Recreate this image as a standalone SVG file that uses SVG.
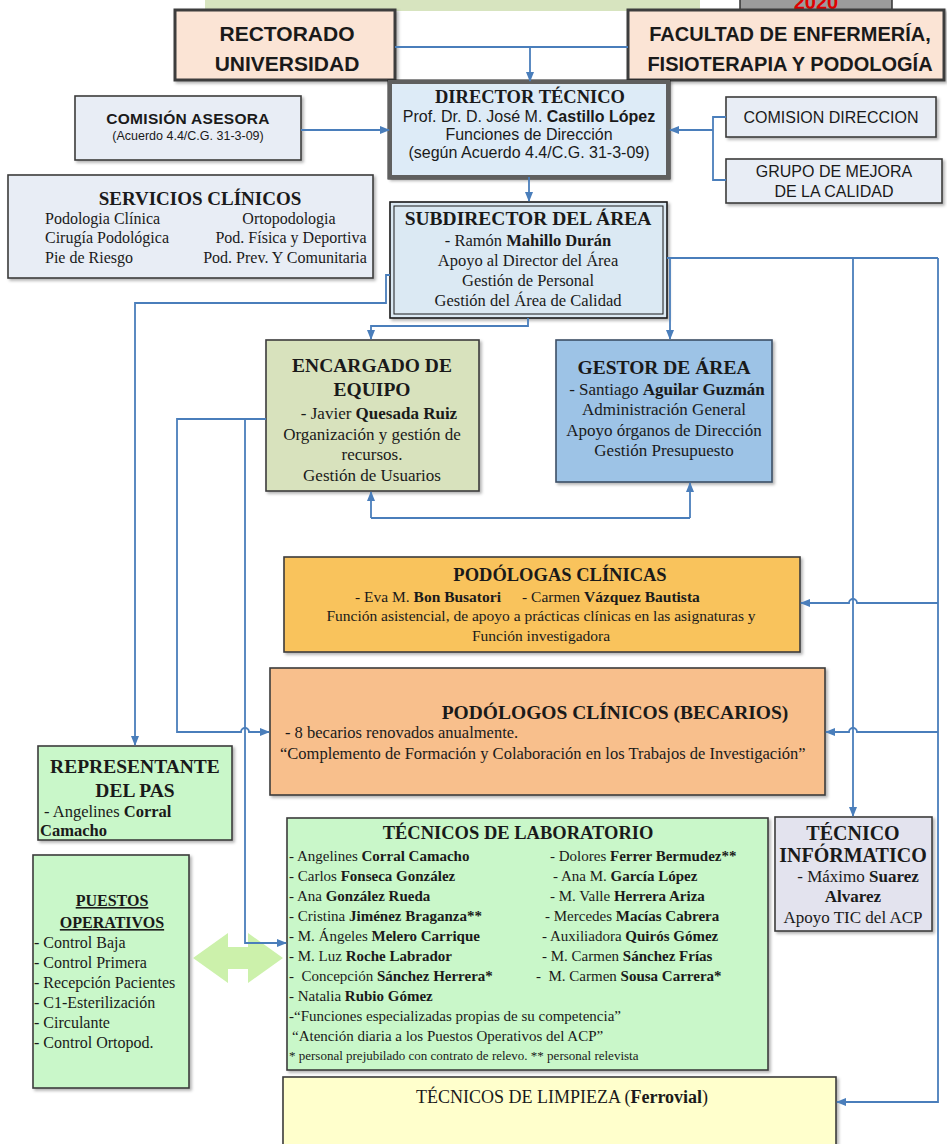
<svg xmlns="http://www.w3.org/2000/svg" width="947" height="1144" viewBox="0 0 947 1144">
<defs>
<marker id="ah" viewBox="0 0 10 10" refX="9" refY="5" markerWidth="10" markerHeight="10" markerUnits="userSpaceOnUse" orient="auto"><path d="M0,1 L10,5 L0,9 z" fill="#4a7ebb"/></marker>
<filter id="ds" x="-5%" y="-5%" width="115%" height="120%"><feDropShadow dx="2" dy="2" stdDeviation="1.5" flood-color="#000" flood-opacity="0.3"/></filter>
</defs>
<style>
text{fill:#1a1a1a}
.s{font-family:"Liberation Sans",Arial,sans-serif}
.r{font-family:"Liberation Serif","Times New Roman",serif}
.b{font-weight:bold}
.c{text-anchor:middle}
.ln{fill:none;stroke:#4a7ebb;stroke-width:1.8}
.ar{marker-end:url(#ah)}
.bx{stroke:#3c3c3c;stroke-width:1.6;filter:url(#ds)}
.t{font-size:19.5px}
</style>
<rect width="947" height="1144" fill="#ffffff"/>

<g id="top-band"><rect x="205" y="-4" width="495" height="15" fill="#d7e4bf"/></g>
<g id="year"><rect x="740" y="-6" width="152" height="21" fill="#9c9c9c" stroke="#333" stroke-width="1.5"/><text class="s b c" x="816" y="9" font-size="20" style="fill:#e00000">2020</text></g>

<g id="rectorado"><rect class="bx" x="175" y="10" width="220" height="70" fill="#fbe4d5" style="stroke-width:3"/>
<text class="s b c" x="287" y="41" font-size="21">RECTORADO</text>
<text class="s b c" x="287" y="71" font-size="21">UNIVERSIDAD</text></g>

<g id="facultad"><rect class="bx" x="628" y="10" width="316" height="70" fill="#fbe4d5" style="stroke-width:3"/>
<text class="s b c" x="790" y="41" font-size="20">FACULTAD DE ENFERMERÍA,</text>
<text class="s b c" x="790" y="71" font-size="20">FISIOTERAPIA Y PODOLOGÍA</text></g>

<g id="director"><rect x="388" y="80" width="282" height="99" fill="none" stroke="#222" stroke-width="1"/>
<rect class="bx" x="390" y="82" width="278" height="95" fill="#ddebf7" style="stroke:#5f5f5f;stroke-width:4"/>
<text class="r b c" x="530" y="103" font-size="18.5">DIRECTOR TÉCNICO</text>
<text class="s c" x="529" y="122" font-size="16">Prof. Dr. D. José M. <tspan class="b">Castillo López</tspan></text>
<text class="s c" x="529" y="140" font-size="16">Funciones de Dirección</text>
<text class="s c" x="529" y="158" font-size="16">(según Acuerdo 4.4/C.G. 31-3-09)</text></g>

<g id="comision-asesora"><rect class="bx" x="75" y="96" width="226" height="64" fill="#e8edf5"/>
<text class="s b c" x="188" y="124" font-size="15.5" letter-spacing="0.3">COMISIÓN ASESORA</text>
<text class="s c" x="188" y="140" font-size="12.5">(Acuerdo 4.4/C.G. 31-3-09)</text></g>

<g id="comision-direccion"><rect class="bx" x="726" y="97" width="210" height="40" fill="#e8edf5"/>
<text class="s c" x="831" y="123" font-size="16">COMISION DIRECCION</text></g>

<g id="grupo-mejora"><rect class="bx" x="726" y="159" width="216" height="44" fill="#e8edf5"/>
<text class="s c" x="834" y="177" font-size="16">GRUPO DE MEJORA</text>
<text class="s c" x="834" y="197" font-size="16">DE LA CALIDAD</text></g>

<g id="servicios-clinicos"><rect class="bx" x="8" y="175" width="365" height="103" fill="#e8edf5"/>
<text class="r b c" x="200" y="205" font-size="19">SERVICIOS CLÍNICOS</text>
<text class="r" x="45" y="224" font-size="16">Podologia Clínica</text>
<text class="r" x="45" y="243" font-size="16">Cirugía Podológica</text>
<text class="r" x="45" y="263" font-size="16">Pie de Riesgo</text>
<text class="r c" x="289" y="224" font-size="16">Ortopodologia</text>
<text class="r c" x="291" y="243" font-size="16">Pod. Física y Deportiva</text>
<text class="r c" x="285" y="263" font-size="16">Pod. Prev. Y Comunitaria</text></g>

<g id="subdirector"><rect class="bx" x="390" y="202" width="277" height="116" fill="#dbe9f3" style="stroke:#1a1a1a"/>
<rect x="394" y="206" width="269" height="108" fill="none" stroke="#1a1a1a" stroke-width="1"/>
<text class="r b c t" x="528" y="225">SUBDIRECTOR DEL ÁREA</text>
<text class="r c" x="528" y="246" font-size="16.5">- Ramón <tspan class="b">Mahillo Durán</tspan></text>
<text class="r c" x="528" y="266" font-size="16.5">Apoyo al Director del Área</text>
<text class="r c" x="528" y="286" font-size="16.5">Gestión de Personal</text>
<text class="r c" x="528" y="306" font-size="16.5">Gestión del Área de Calidad</text></g>

<g id="encargado-equipo"><rect class="bx" x="266" y="340" width="213" height="151" fill="#d8e2bd"/>
<text class="r b c t" x="372" y="372">ENCARGADO DE</text>
<text class="r b c t" x="372" y="396">EQUIPO</text>
<text class="r c" x="379" y="419" font-size="17">- Javier <tspan class="b">Quesada Ruiz</tspan></text>
<text class="r c" x="372" y="440" font-size="17">Organización y gestión de</text>
<text class="r c" x="372" y="460" font-size="17">recursos.</text>
<text class="r c" x="372" y="481" font-size="17">Gestión de Usuarios</text></g>

<g id="gestor-area"><rect class="bx" x="556" y="340" width="216" height="142" fill="#9dc3e6" style="stroke:#3d4f66"/>
<text class="r b c t" x="664" y="374">GESTOR DE ÁREA</text>
<text class="r c" x="667" y="395" font-size="17">- Santiago <tspan class="b">Aguilar Guzmán</tspan></text>
<text class="r c" x="664" y="415" font-size="17">Administración General</text>
<text class="r c" x="664" y="436" font-size="17">Apoyo órganos de Dirección</text>
<text class="r c" x="664" y="456" font-size="17">Gestión Presupuesto</text></g>

<g id="podologas-clinicas"><rect class="bx" x="284" y="557" width="516" height="95" fill="#f9c35c"/>
<text class="r b c" x="560" y="581" font-size="18.5">PODÓLOGAS CLÍNICAS</text>
<text class="r" x="355" y="602" font-size="15.5">- Eva M. <tspan class="b">Bon Busatori</tspan></text>
<text class="r" x="522" y="602" font-size="15.5">- Carmen <tspan class="b">Vázquez Bautista</tspan></text>
<text class="r c" x="541" y="621" font-size="15.5">Función asistencial, de apoyo a prácticas clínicas en las asignaturas y</text>
<text class="r c" x="541" y="641" font-size="15.5">Función investigadora</text></g>

<g id="podologos-becarios"><rect class="bx" x="270" y="668" width="555" height="127" fill="#f8bf8c"/>
<text class="r b c t" x="615" y="719">PODÓLOGOS CLÍNICOS (BECARIOS)</text>
<text class="r" x="285" y="738" font-size="16.5">- 8 becarios renovados anualmente.</text>
<text class="r" x="280" y="759" font-size="16.5">“Complemento de Formación y Colaboración en los Trabajos de Investigación”</text></g>

<g id="representante-pas"><rect class="bx" x="38" y="746" width="194" height="94" fill="#c9f7c9"/>
<text class="r b c t" x="135" y="773">REPRESENTANTE</text>
<text class="r b c t" x="135" y="797">DEL PAS</text>
<text class="r" x="44" y="817" font-size="16.5">- Angelines <tspan class="b">Corral</tspan></text>
<text class="r b" x="40" y="836" font-size="16.5">Camacho</text></g>

<g id="puestos-operativos"><rect class="bx" x="33" y="855" width="156" height="233" fill="#c9f7c9"/>
<text class="r b c" x="112" y="906" font-size="16" text-decoration="underline">PUESTOS</text>
<text class="r b c" x="112" y="928" font-size="16" text-decoration="underline">OPERATIVOS</text>
<text class="r" x="34" y="948" font-size="16">- Control Baja</text>
<text class="r" x="34" y="968" font-size="16">- Control Primera</text>
<text class="r" x="34" y="988" font-size="16">- Recepción Pacientes</text>
<text class="r" x="34" y="1008" font-size="16">- C1-Esterilización</text>
<text class="r" x="34" y="1028" font-size="16">- Circulante</text>
<text class="r" x="34" y="1048" font-size="16">- Control Ortopod.</text></g>

<g id="green-double-arrow"><polygon points="193,958 228,933 228,947 248,947 248,933 283,958 248,983 248,969 228,969 228,983" fill="#c6f0a2" opacity="0.9"/></g>

<g id="tecnicos-laboratorio"><rect class="bx" x="287" y="818" width="481" height="252" fill="#c9f7c9"/>
<text class="r b c" x="518" y="839" font-size="18.5">TÉCNICOS DE LABORATORIO</text>
<g class="r" font-size="15">
<text x="289" y="861">- Angelines <tspan class="b">Corral Camacho</tspan></text>
<text x="289" y="881">- Carlos <tspan class="b">Fonseca González</tspan></text>
<text x="289" y="901">- Ana <tspan class="b">González Rueda</tspan></text>
<text x="289" y="921">- Cristina <tspan class="b">Jiménez Braganza**</tspan></text>
<text x="289" y="941">- M. Ángeles <tspan class="b">Melero Carrique</tspan></text>
<text x="289" y="961">- M. Luz <tspan class="b">Roche Labrador</tspan></text>
<text x="289" y="981" xml:space="preserve">-  Concepción <tspan class="b">Sánchez Herrera*</tspan></text>
<text x="289" y="1001">- Natalia <tspan class="b">Rubio Gómez</tspan></text>
<text x="289" y="1021">-“Funciones especializadas propias de su competencia”</text>
<text x="292" y="1041">“Atención diaria a los Puestos Operativos del ACP”</text>
<text x="550" y="861">- Dolores <tspan class="b">Ferrer Bermudez**</tspan></text>
<text x="553" y="881">- Ana M. <tspan class="b">García López</tspan></text>
<text x="550" y="901">- M. Valle <tspan class="b">Herrera Ariza</tspan></text>
<text x="545" y="921">- Mercedes <tspan class="b">Macías Cabrera</tspan></text>
<text x="542" y="941">- Auxiliadora <tspan class="b">Quirós Gómez</tspan></text>
<text x="542" y="961">- M. Carmen <tspan class="b">Sánchez Frías</tspan></text>
<text x="536" y="981" xml:space="preserve">-  M. Carmen <tspan class="b">Sousa Carrera*</tspan></text>
</g>
<text class="r" x="289" y="1060" font-size="13">* personal prejubilado con contrato de relevo. ** personal relevista</text></g>

<g id="tecnico-informatico"><rect class="bx" x="775" y="817" width="157" height="114" fill="#e3e3ee"/>
<text class="r b c" x="853" y="840" font-size="20">TÉCNICO</text>
<text class="r b c" x="853" y="862" font-size="20">INFÓRMATICO</text>
<text class="r c" x="858" y="882" font-size="17">- Máximo <tspan class="b">Suarez</tspan></text>
<text class="r b c" x="853" y="902" font-size="17">Alvarez</text>
<text class="r c" x="853" y="923" font-size="17">Apoyo TIC del ACP</text></g>

<g id="tecnicos-limpieza"><rect class="bx" x="283" y="1077" width="553" height="80" fill="#ffffcc"/>
<text class="r c" x="562" y="1103" font-size="18">TÉCNICOS DE LIMPIEZA (<tspan class="b">Ferrovial</tspan>)</text></g>

<g id="connectors">
<path class="ln" d="M395,47 H628"/>
<path class="ln ar" d="M530,47 V81"/>
<path class="ln ar" d="M301,130 H389"/>
<path class="ln" d="M726,117 H713 V180 H726"/>
<path class="ln ar" d="M713,130 H670"/>
<path class="ln ar" d="M529,177 V201"/>
<path class="ln ar" d="M390,275 H386 V303 H135 V745"/>
<path class="ln ar" d="M528,318 V326 H371 V339"/>
<path class="ln" d="M667,258 H938"/>
<path class="ln ar" d="M670,258 V339"/>
<path class="ln ar" d="M853,258 V816"/>
<path class="ln ar" d="M938,258 V1102 H837"/>
<path class="ln ar" d="M938,603 H857 a4,4 0 0 0 -8,0 H801"/>
<path class="ln ar" d="M938,732 H857 a4,4 0 0 0 -8,0 H826"/>
<path class="ln" d="M371,518 H690"/>
<path class="ln ar" d="M371,518 V492"/>
<path class="ln ar" d="M690,518 V483"/>
<path class="ln ar" d="M266,419 H177 V732 H241 a4,4 0 0 1 8,0 H269"/>
<path class="ln ar" d="M245,419 V943 H286"/>
</g>
</svg>
